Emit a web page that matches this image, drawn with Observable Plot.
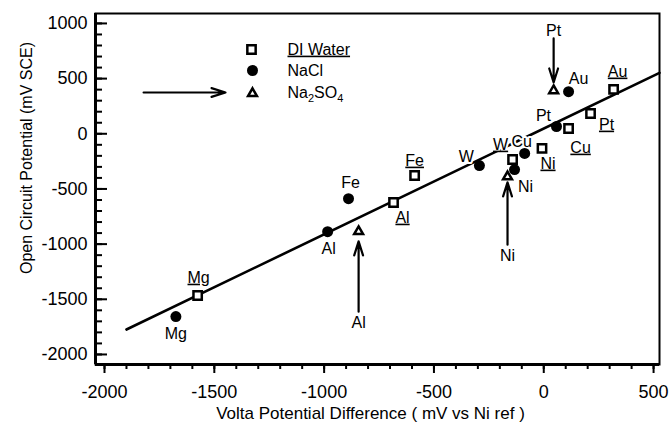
<!DOCTYPE html>
<html><head><meta charset="utf-8">
<script src="https://cdn.jsdelivr.net/npm/d3@7"></script>
<script src="https://cdn.jsdelivr.net/npm/@observablehq/plot@0.6"></script>
<style>body{margin:0;background:#fff} svg{display:block}</style>
</head><body><div id="chart"></div>
<script>
// ---- data ----
const diMetals = ["Mg", "Al", "Fe", "W", "Ni", "Cu", "Pt", "Au"];
const diVolta  = [-1576, -684, -588, -142, -8, 113, 213, 318];
const diOcp    = [-1466, -623, -378, -233, -133, 48, 184, 402];

const naclMetals = ["Mg", "Al", "Fe", "W", "Ni", "Cu", "Pt", "Au"];
const naclVolta  = [-1675, -984, -889, -293, -133, -87, 58, 113];
const naclOcp    = [-1657, -887, -588, -288, -324, -178, 66, 381];

const na2so4Metals = ["Al", "Ni", "Pt"];
const na2so4Volta  = [-843, -165, 45];
const na2so4Ocp    = [-886, -389, 391];

// arrows marking the Na2SO4 points (tail, tip and label height)
const arrowTail  = [-1612, -1005, 864];
const arrowTip   = [-975, -441, 465];
const arrowLabel = [-1711, -1103, 936];

// fitted line
const fitVolta = [-1900, 527];
const fitOcp   = [-1774, 552];

// legend
const legendNames = ["DI Water", "NaCl", "Na2SO4"];
const legendArrowVolta = [-1822, -1449];
const legendArrowOcp = 374;

const xTicks = [-2000, -1500, -1000, -500, 0, 500];
const yTicks = [-2000, -1500, -1000, -500, 0, 500, 1000];

// ---- styling / layout ----
const W = 670, H = 423;
const mL = 95, mR = 11, mT = 13, mB = 59;
const frameW = W - mL - mR;
const xDomain = [-2041, 527], yDomain = [-2091, 1090];
const xMinor = d3.range(-2000, 501, 100);
const yMinor = d3.range(-2000, 1001, 100);

const diLabelOff   = [[1,-18],[9,15],[0,-15],[-12,-15],[6,15],[12,19],[16,11],[4,-18]];
const naclLabelOff = [[0,17],[1,17],[2,-16],[-13,-9],[11,17],[-3,-12],[-13,-11],[10,-13]];

const rows = (names, xs, ys) => names.map((m, i) => ({metal: m, x: xs[i], y: ys[i]}));
const di = rows(diMetals, diVolta, diOcp);
const nacl = rows(naclMetals, naclVolta, naclOcp);
const na2so4 = rows(na2so4Metals, na2so4Volta, na2so4Ocp);
const arrows = na2so4.map((d, i) => ({metal: d.metal, x: d.x, y1: arrowTail[i], y2: arrowTip[i], ly: arrowLabel[i]}));
const fit = fitVolta.map((x, i) => ({x, y: fitOcp[i]}));

const haloMarks = (data, offs) => data.map((d, i) =>
  Plot.text([d], {x: "x", y: "y", text: "metal", dx: offs[i][0], dy: offs[i][1],
    fontSize: 16, fill: "white", stroke: "white", strokeWidth: 4}));
const labelMarks = (data, offs, tag) => data.map((d, i) =>
  Plot.text([d], {x: "x", y: "y", text: "metal", dx: offs[i][0], dy: offs[i][1],
    fontSize: 16, fill: "black", ariaDescription: tag}));

const fmt = d => String(d);

const chart = Plot.plot({
  width: W, height: H,
  marginLeft: mL, marginRight: mR, marginTop: mT, marginBottom: mB,
  style: {fontFamily: "'Liberation Sans', Arial, sans-serif", background: "white", color: "black"},
  x: {domain: xDomain, axis: null},
  y: {domain: yDomain, axis: null},
  marks: [
    Plot.line(fit, {x: "x", y: "y", stroke: "black", strokeWidth: 2.6}),
    ...haloMarks(di, diLabelOff),
    ...haloMarks(nacl, naclLabelOff),
    ...labelMarks(di, diLabelOff, "di-label"),
    ...labelMarks(nacl, naclLabelOff, "nacl-label"),
    Plot.text(arrows, {x: "x", y: "ly", text: "metal", fontSize: 16, fill: "black"}),
    Plot.arrow(arrows, {x1: "x", x2: "x", y1: "y1", y2: "y2", stroke: "black", strokeWidth: 2.2, headLength: 10, headAngle: 35}),
    Plot.dot(nacl, {x: "x", y: "y", r: 5.5, fill: "black", stroke: "none"}),
    Plot.dot(di, {x: "x", y: "y", symbol: "square", r: 4.7, fill: "white", stroke: "black", strokeWidth: 2.5}),
    Plot.dot(na2so4, {x: "x", y: "y", symbol: "triangle", r: 3.3, fill: "white", stroke: "black", strokeWidth: 2.5}),
    // legend
    Plot.dot([0], {frameAnchor: "top-left", dx: 156, dy: 36, symbol: "square", r: 4.7, fill: "white", stroke: "black", strokeWidth: 2.5}),
    Plot.dot([0], {frameAnchor: "top-left", dx: 157, dy: 57, r: 5.5, fill: "black", stroke: "none"}),
    Plot.dot([0], {frameAnchor: "top-left", dx: 157, dy: 80, symbol: "triangle", r: 3.3, fill: "white", stroke: "black", strokeWidth: 2.5}),
    Plot.text([legendNames[0]], {frameAnchor: "top-left", dx: 192, dy: 36, textAnchor: "start", lineAnchor: "middle", fontSize: 16, fill: "black", ariaDescription: "di-label"}),
    Plot.text([legendNames[1]], {frameAnchor: "top-left", dx: 192, dy: 57, textAnchor: "start", lineAnchor: "middle", fontSize: 16, fill: "black"}),
    Plot.text([legendNames[2]], {frameAnchor: "top-left", dx: 192, dy: 79, textAnchor: "start", lineAnchor: "middle", fontSize: 16, fill: "black", ariaDescription: "sub-label"}),
    Plot.arrow([0], {x1: () => legendArrowVolta[0], x2: () => legendArrowVolta[1], y1: () => legendArrowOcp, y2: () => legendArrowOcp, stroke: "black", strokeWidth: 2.2, headLength: 10, headAngle: 35}),
    // axes
    Plot.axisX(xTicks, {tickSize: 9, tickPadding: 12, fontSize: 18, strokeWidth: 2, tickFormat: fmt, label: null}),
    Plot.axisX(xMinor, {tickSize: 5, strokeWidth: 2, tickFormat: () => "", label: null}),
    Plot.tickY(yTicks, {y: d => d, insetRight: frameW - 12, stroke: "black", strokeWidth: 2}),
    Plot.tickY(yMinor, {y: d => d, insetRight: frameW - 7, stroke: "black", strokeWidth: 2}),
    Plot.axisY(yTicks, {tickSize: 0, tickPadding: 8, fontSize: 18, tickFormat: fmt, label: null}),
    Plot.frame({stroke: "black", strokeWidth: 2}),
    Plot.ruleX([xDomain[0]], {stroke: "black", strokeWidth: 3}),
    Plot.ruleY([yDomain[0]], {stroke: "black", strokeWidth: 3}),
    Plot.text(["Volta Potential Difference ( mV vs Ni ref )"], {frameAnchor: "bottom", dx: -7, dy: 49.5, textAnchor: "middle", lineAnchor: "middle", fontSize: 17, fill: "black"}),
    Plot.text(["Open Circuit Potential (mV SCE)"], {frameAnchor: "left", dx: -69, dy: -31, rotate: -90, textAnchor: "middle", lineAnchor: "middle", fontSize: 16, fill: "black"})
  ]
});

const tagged = tag => [...chart.querySelectorAll("g")].filter(g => g.getAttribute("aria-description") === tag);
tagged("di-label").forEach(g => g.querySelectorAll("text").forEach(t => t.style.textDecoration = "underline"));
tagged("sub-label").forEach(g => g.querySelectorAll("text").forEach(sub => {
  sub.textContent = "";
  const parts = [["Na", 0], ["2", 1], ["SO", 0], ["4", 1]];
  let prev = 0;
  for (const [s, isSub] of parts) {
    const ts = document.createElementNS("http://www.w3.org/2000/svg", "tspan");
    ts.textContent = s;
    if (isSub) { ts.setAttribute("font-size", "11"); ts.setAttribute("dy", "4"); }
    else if (prev) ts.setAttribute("dy", "-4");
    prev = isSub;
    sub.appendChild(ts);
  }
}));
document.getElementById("chart").appendChild(chart);
</script>
</body></html>
